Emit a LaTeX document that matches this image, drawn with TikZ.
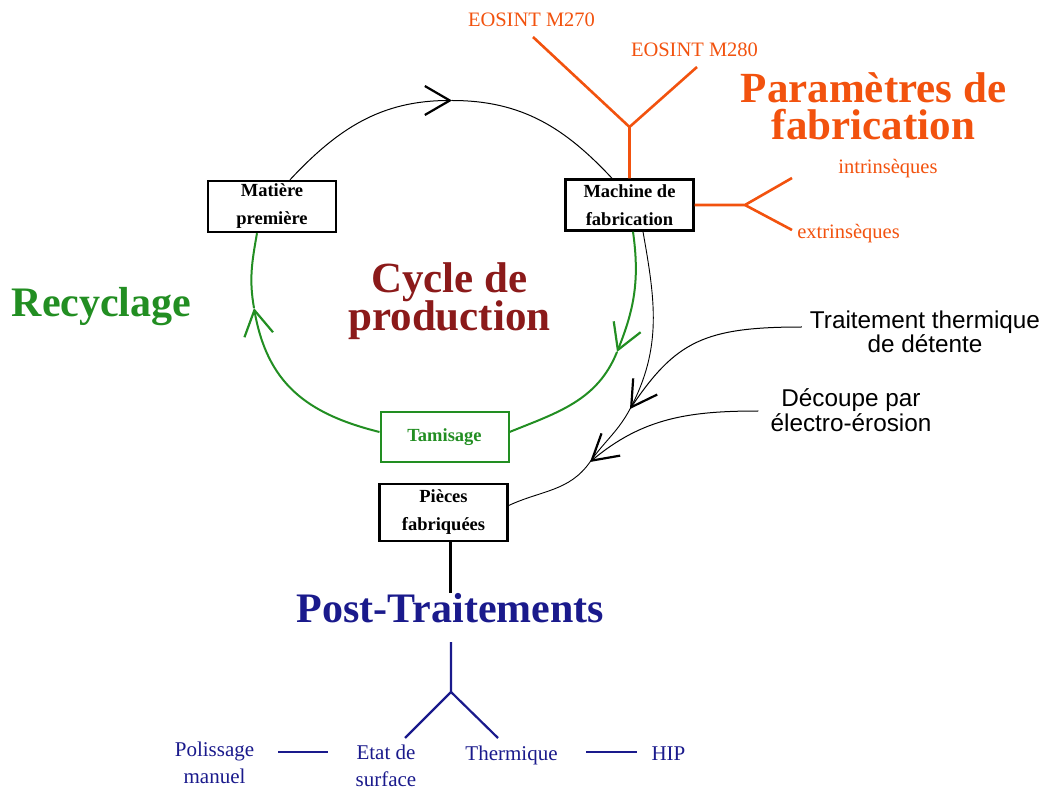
\documentclass[tikz,border=0pt]{standalone}
\usepackage{fontspec}
\setmainfont{Liberation Serif}
\newfontfamily\arialf{Liberation Sans}
\usetikzlibrary{arrows.meta}
\definecolor{orng}{RGB}{242,82,14}
\definecolor{grn}{RGB}{34,142,34}
\definecolor{dred}{RGB}{139,26,26}
\definecolor{navy}{RGB}{26,26,140}
\begin{document}
\begin{tikzpicture}[x=1pt,y=1pt,
  nbox/.style={draw, line width=2.4pt, inner sep=0pt, minimum width=128pt, minimum height=51pt, align=center,
    font={\fontsize{18.5}{28}\selectfont\bfseries\lineskiplimit=-\maxdimen}},
  vtip/.style={-{Straight Barb[length=25pt,width=29pt,line width=2.2pt]}},
  thinblk/.style={line width=1pt, black},
  grline/.style={line width=2pt, grn},
  orline/.style={line width=2.6pt, orng},
  nvline/.style={line width=2.2pt, navy},
  ortext/.style={inner sep=0pt, text=orng, font={\fontsize{20.5}{24}\selectfont}},
  nvtext/.style={inner sep=0pt, text=navy, align=center, font={\fontsize{21}{27}\selectfont\lineskiplimit=-\maxdimen}},
  sftext/.style={inner sep=0pt, align=center, font={\arialf\fontsize{24.3}{24.5}\selectfont\lineskiplimit=-\maxdimen}},
  bigtext/.style={inner sep=0pt, align=center, font={\fontsize{43}{38}\selectfont\bfseries\lineskiplimit=-\maxdimen}}
]
\useasboundingbox (0,0) rectangle (1042,-791);

% boxes
\node[nbox] (mat) at (272,-206.5) {Matière\\première};
\node[nbox] (mach) at (629.5,-205) {Machine de\\fabrication};
\node[nbox, draw=grn, text=grn, line width=2pt, minimum height=50pt] (tam) at (444.5,-437) {Tamisage};
\node[nbox, minimum height=57pt] (pie) at (443.5,-512.5) {Pièces\\fabriquées};

% titles
\node[bigtext, text=dred] (cyc) at (449.5,-301) {Cycle de\\production};
\node[bigtext, text=orng, font={\fontsize{43}{37}\selectfont\bfseries\lineskiplimit=-\maxdimen}] (par) at (873.5,-106) {Paramètres de\\fabrication};
\node[inner sep=0pt, anchor=base, text=grn, font={\fontsize{42}{48}\selectfont\bfseries}] (rec) at (101.5,-317) {Recyclage};
\node[inner sep=0pt, anchor=base, text=navy, font={\fontsize{42}{48}\selectfont\bfseries}] (pt) at (450.5,-622) {Post-Traitements};

% cycle, top arc
\coordinate (top) at (452,-100.5);
\draw[thinblk, vtip] ([xshift=18pt]mat.north) to[out=47,in=180] (top);
\draw[thinblk] (top) to[out=0,in=133] ([xshift=-17.5pt]mach.north);

% recycling arcs
\coordinate (gl) at (254,-308);
\draw[grline, vtip] ([yshift=5pt]tam.west) to[out=166,in=-80,looseness=1.1] (gl);
\draw[grline] (gl) to[out=100,in=-100] ([xshift=-15pt]mat.south);
\coordinate (gr) at (617,-352);
\draw[grline, vtip] ([xshift=3.5pt]mach.south) to[out=-82,in=68] (gr);
\draw[grline] (gr) to[out=-112,in=22] ([yshift=5pt]tam.east);

% production to parts
\coordinate (c1) at (630,-409);
\coordinate (c2) at (590,-462);
\draw[line width=0.9pt] ([xshift=13.5pt]mach.south) to[out=-80,in=62] (c1) to[out=-118,in=55] (c2) to[out=-125,in=25] ([yshift=7pt]pie.east);

\node[sftext] (trait) at (925,-332) {Traitement thermique\\de détente};
\node[sftext] (dec) at (851,-410) {Découpe par\\électro-érosion};
\draw[thinblk, vtip] ([shift={(-8pt,5pt)}]trait.west) to[out=180,in=56,out looseness=1.3,in looseness=1.1] (c1);
\draw[thinblk, vtip] ([shift={(-12pt,-1pt)}]dec.west) to[out=180,in=40] (c2);

% manufacturing parameters
\node[ortext, anchor=base] (m270) at (531.5,-27) {EOSINT M270};
\node[ortext, anchor=base] (m280) at (694.5,-57) {EOSINT M280};
\node[ortext] (intr) at (888,-169) {intrinsèques};
\node[ortext] (extr) at (848.5,-234) {extrinsèques};
\coordinate (oj) at (629.5,-127);
\coordinate (o270) at (533,-37);
\coordinate (o280) at (697,-67);
\coordinate (oe) at (745,-205);
\coordinate (oi) at (792,-178);
\coordinate (ox) at (792,-230);
\draw[orline] (mach.north) -- (oj) -- (o270);
\draw[orline] (oj) -- (o280);
\draw[orline] (mach.east) -- (oe) -- (oi);
\draw[orline] (oe) -- (ox);

% post-treatments
\draw[line width=2.4pt] (pie.south -| pt.north) -- (pt.north);
\coordinate (ptop) at (451,-642);
\coordinate (pj) at (451,-692);
\coordinate (pl) at (405,-738);
\coordinate (pr) at (498,-738);
\draw[nvline] (ptop) -- (pj) -- (pl);
\draw[nvline] (pj) -- (pr);
\node[nvtext] (pol) at (214.5,-763) {Polissage\\manuel};
\node[nvtext] (etat) at (386,-765.7) {Etat de\\surface};
\node[nvtext, anchor=base] (therm) at (511.5,-760.7) {Thermique};
\node[nvtext, anchor=base] (hip) at (668.5,-760.7) {HIP};
\coordinate (hl1) at (278,-752.3);
\coordinate (hl2) at (328,-752.3);
\coordinate (hr1) at (586,-752.3);
\coordinate (hr2) at (637,-752.3);
\draw[nvline] (hl1) -- (hl2);
\draw[nvline] (hr1) -- (hr2);
\end{tikzpicture}
\end{document}
